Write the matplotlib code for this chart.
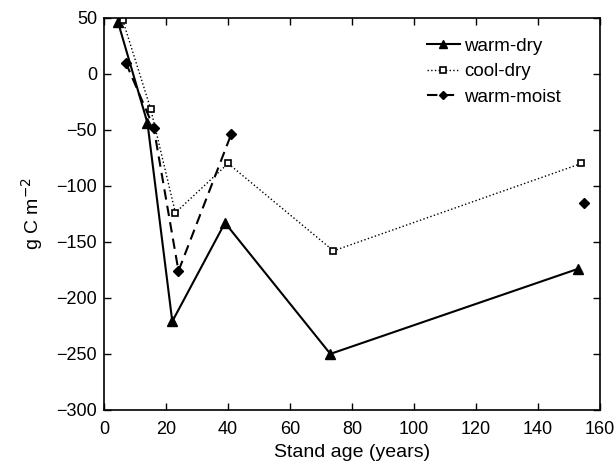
import numpy as np
import matplotlib
matplotlib.use("Agg")
import matplotlib.pyplot as plt

plt.rcParams['font.family'] = ['Liberation Sans', 'DejaVu Sans']
plt.rcParams['font.size'] = 13

# stand age (years) and flux (g C m-2)
age_warm_dry = [4.5, 14, 22, 39, 73, 153]
val_warm_dry = [46, -44, -221, -133, -250, -174]

age_cool_dry = [6, 15, 23, 40, 74, 154]
val_cool_dry = [48, -31, -124, -80, -158, -80]

# no value at 74 years -> gap in the line
age_warm_moist = [7, 16, 24, 41, 74, 155]
val_warm_moist = [10, -48, -176, -54, np.nan, -115]

fig = plt.figure(figsize=(6.16, 4.69), dpi=100)
ax = fig.add_axes([0.169, 0.126, 0.805, 0.836])

ax.plot(age_warm_dry, val_warm_dry, color="k", lw=1.5, marker="^", ms=6.5,
        label="warm-dry")
ax.plot(age_cool_dry, val_cool_dry, color="k", lw=1, ls=":", marker="s", ms=4.5,
        mfc="white", mew=1.2, label="cool-dry")
ax.plot(age_warm_moist, val_warm_moist, color="k", lw=1.5, ls=(0, (5, 3)),
        marker="D", ms=5, label="warm-moist")

ax.set_xlim(0, 160)
ax.set_ylim(-300, 50)
ax.set_xticks(np.arange(0, 161, 20))
ax.set_yticks(np.arange(-300, 51, 50))
ax.set_yticklabels([str(v).replace("-", "\u2212") for v in range(-300, 51, 50)])
ax.tick_params(direction="in", top=True, right=True, length=5, width=1,
               labelsize=13)
ax.tick_params(axis="x", pad=8)
ax.tick_params(axis="y", pad=5)
for s in ax.spines.values():
    s.set_linewidth(1.2)

ax.set_xlabel("Stand age (years)", fontsize=14, labelpad=4)
ax.set_ylabel("g C m$^{-2}$", fontsize=14, labelpad=8)

ax.legend(loc="upper right", bbox_to_anchor=(0.955, 0.993), frameon=False,
          handlelength=1.8, handletextpad=0.2, labelspacing=0.45, fontsize=13.5,
          markerscale=0.85)

plt.savefig("out.png", dpi=100)
